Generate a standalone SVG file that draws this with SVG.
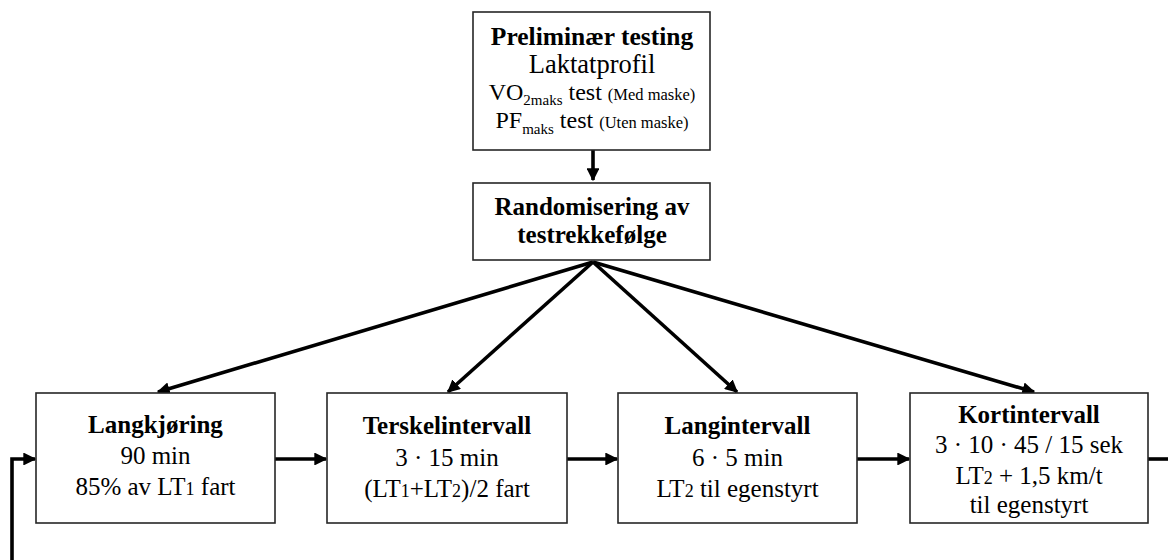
<svg xmlns="http://www.w3.org/2000/svg" width="1168" height="560" viewBox="0 0 1168 560">
<style>
.box{fill:#fff;stroke:#262626;stroke-width:1.6}
text{font-family:"Liberation Serif","Times New Roman",serif;fill:#000;text-anchor:middle}
.b{font-weight:bold;font-size:25px}
.r{font-size:25px}
.m{font-size:24px}
.sub{font-size:15px}
.s{font-size:16.5px}
.c{stroke:#000;stroke-width:3.6;fill:none}
</style>
<defs>
<marker id="ah" viewBox="0 0 10 10" refX="9" refY="5" markerWidth="3.6" markerHeight="3.6" orient="auto" markerUnits="strokeWidth">
<path d="M0,0 L10,5 L0,10 z" fill="#000"/>
</marker>
</defs>
<rect width="1168" height="560" fill="#fff"/>
<g id="connectors">
<line class="c" x1="593" y1="150" x2="593" y2="180" marker-end="url(#ah)"/>
<line class="c" x1="593" y1="262" x2="158" y2="392" marker-end="url(#ah)"/>
<line class="c" x1="593" y1="262" x2="448" y2="392" marker-end="url(#ah)"/>
<line class="c" x1="593" y1="262" x2="737" y2="392" marker-end="url(#ah)"/>
<line class="c" x1="593" y1="262" x2="1034" y2="392" marker-end="url(#ah)"/>
<line class="c" x1="275" y1="459" x2="326" y2="459" marker-end="url(#ah)"/>
<line class="c" x1="567" y1="459" x2="617" y2="459" marker-end="url(#ah)"/>
<line class="c" x1="857" y1="459" x2="909" y2="459" marker-end="url(#ah)"/>
<line class="c" x1="1148" y1="459" x2="1168" y2="459"/>
<polyline class="c" points="12,560 12,459 35,459" marker-end="url(#ah)"/>
</g>
<g id="preliminaer">
<rect class="box" x="473" y="12" width="237" height="138"/>
<text class="b" x="592" y="45" style="font-size:25.5px">Preliminær testing</text>
<text x="592" y="73" style="font-size:26.5px">Laktatprofil</text>
<text x="592" y="100"><tspan class="m">VO</tspan><tspan class="sub" dy="5">2maks</tspan><tspan class="m" dy="-5"> test </tspan><tspan class="s">(Med maske)</tspan></text>
<text x="592" y="128"><tspan class="m">PF</tspan><tspan class="sub" dy="6">maks</tspan><tspan class="m" dy="-6">  test </tspan><tspan class="s">(Uten maske)</tspan></text>
</g>
<g id="randomisering">
<rect class="box" x="473" y="183" width="237" height="77"/>
<text class="b" x="592" y="215">Randomisering av</text>
<text class="b" x="592" y="243">testrekkefølge</text>
</g>
<g id="langkjoring">
<rect class="box" x="36" y="393" width="239" height="130"/>
<text class="b" x="155.5" y="433">Langkjøring</text>
<text class="r" x="155.5" y="464">90 min</text>
<text class="r" x="155.5" y="495">85% av LT<tspan font-size="18">1</tspan> fart</text>
</g>
<g id="terskelintervall">
<rect class="box" x="327" y="393" width="240" height="130"/>
<text class="b" x="447" y="434">Terskelintervall</text>
<text class="r" x="447" y="466">3 · 15 min</text>
<text class="r" x="447" y="497">(LT<tspan font-size="18">1</tspan>+LT<tspan font-size="18">2</tspan>)/2 fart</text>
</g>
<g id="langintervall">
<rect class="box" x="618" y="393" width="239" height="130"/>
<text class="b" x="737.5" y="434">Langintervall</text>
<text class="r" x="737.5" y="466">6 · 5 min</text>
<text class="r" x="737.5" y="497">LT<tspan font-size="18">2</tspan> til egenstyrt</text>
</g>
<g id="kortintervall">
<rect class="box" x="910" y="393" width="238" height="130"/>
<text class="b" x="1029" y="423">Kortintervall</text>
<text class="r" x="1029" y="453">3 · 10 · 45 / 15 sek</text>
<text class="r" x="1029" y="484">LT<tspan font-size="18">2</tspan> + 1,5 km/t</text>
<text class="r" x="1029" y="513">til egenstyrt</text>
</g>
</svg>
